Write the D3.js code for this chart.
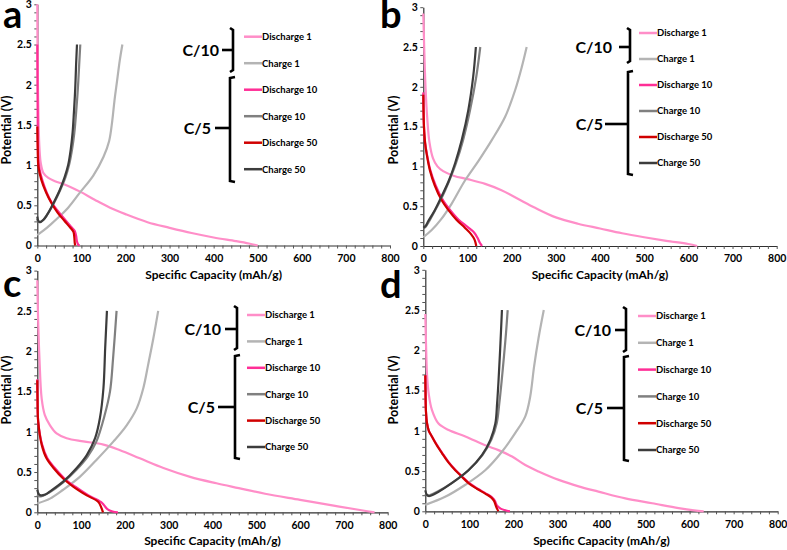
<!DOCTYPE html>
<html><head><meta charset="utf-8">
<script src="https://cdn.jsdelivr.net/npm/d3@7"></script>
<style>
html,body{margin:0;padding:0;background:#fff;}
svg text{font-family:Lato,"Open Sans",sans-serif;font-weight:bold;fill:#000;}
</style></head>
<body><svg id="c" width="787" height="550"></svg>
<script>
// ---------------- data ----------------
const seriesNames = ["Discharge 1","Charge 1","Discharge 10","Charge 10","Discharge 50","Charge 50"];
const seriesColors = ["#FF8EC8","#B4B4B4","#FF2E96","#808080","#D00000","#3C3C3C"];
const panelLetters = ["a","b","c","d"];
const rateLabels = ["C/10","C/5"];
const xTickValues = [0,100,200,300,400,500,600,700,800];
const yTickValues = [0,0.5,1,1.5,2,2.5,3];
const xTitle = "Specific Capacity (mAh/g)";
const yTitle = "Potential (V)";

// panel a
const aD1 = [[0,3],[0.5,2.5],[1.5,2],[3,1.5],[5,1.2],[8,1.02],[14,0.9],[25,0.84],[40,0.8],[66,0.75],[97,0.67],[130,0.57],[165,0.47],[200,0.39],[250,0.29],[300,0.22],[350,0.155],[400,0.1],[450,0.055],[480,0.025],[500,0]];
const aC1 = [[0,0.13],[15,0.19],[30,0.26],[50,0.36],[70,0.47],[97,0.66],[127,0.87],[150,1.1],[163,1.3],[170,1.55],[175,1.8],[181,2.05],[187,2.3],[193,2.5]];
const aD10 = [[0,2.5],[0.5,2],[1,1.5],[2,1.1],[5,0.95],[12,0.8],[22,0.65],[33,0.53],[48,0.42],[63,0.32],[77,0.23],[85,0.18],[88,0.12],[90,0.05],[93,0.01],[96,0]];
const aC10 = [[0,0.33],[2,0.3],[6,0.29],[14,0.32],[22,0.38],[37,0.52],[52,0.69],[64,0.85],[72,1.0],[79,1.2],[84,1.4],[88,1.65],[92,1.95],[95,2.25],[97.5,2.5]];
const aD50 = [[0,1.48],[1,1.2],[2.5,0.98],[9,0.82],[20,0.66],[31,0.54],[46,0.41],[61,0.31],[75,0.22],[82,0.17],[84,0.1],[85,0.03],[86,0]];
const aC50 = [[0,0.36],[2,0.31],[6,0.29],[14,0.32],[22,0.38],[36,0.52],[51,0.69],[62,0.85],[70,1.0],[76,1.2],[80,1.4],[83,1.65],[86,1.95],[88,2.25],[90,2.5]];

// panel b
const bD1 = [[0,2.92],[2,2.5],[5,2.0],[9,1.6],[14,1.3],[22,1.1],[32,1.0],[45,0.94],[70,0.88],[100,0.84],[140,0.78],[177,0.7],[215,0.59],[253,0.48],[300,0.36],[350,0.28],[400,0.22],[450,0.16],[500,0.11],[550,0.065],[600,0.025],[620,0]];
const bC1 = [[0,0.11],[19,0.2],[41,0.34],[64,0.53],[94,0.82],[125,1.07],[155,1.33],[185,1.62],[208,1.96],[223,2.25],[234,2.5]];
const bD10 = [[0,1.93],[0.5,1.7],[1.5,1.5],[4,1.3],[8,1.16],[16,0.95],[28,0.76],[44,0.58],[61,0.45],[80,0.33],[100,0.24],[115,0.17],[123,0.1],[128,0.04],[133,0]];
const bC10 = [[0,0.22],[5,0.24],[11,0.29],[26,0.44],[42,0.61],[58,0.81],[74,1.04],[90,1.33],[106,1.71],[120,2.13],[129,2.5]];
const bD50 = [[0,1.9],[0.5,1.7],[1.5,1.5],[4,1.3],[7.5,1.16],[15,0.95],[26,0.76],[41,0.58],[57,0.45],[75,0.33],[94,0.23],[108,0.15],[116,0.08],[120,0]];
const bC50 = [[0,0.23],[5,0.25],[11,0.31],[26,0.45],[41,0.62],[57,0.81],[72,1.04],[87,1.33],[102,1.71],[113,2.13],[119,2.5]];

// panel c
const cD1 = [[0,2.88],[2,2.37],[5,1.9],[10,1.41],[17,1.21],[29,1.08],[44,0.98],[67,0.92],[105,0.88],[151,0.84],[189,0.77],[234,0.67],[288,0.55],[349,0.44],[409,0.36],[460,0.3],[520,0.23],[600,0.155],[680,0.08],[740,0.025],[770,0]];
const cC1 = [[0,0.11],[29,0.17],[59,0.28],[97,0.44],[135,0.65],[174,0.88],[204,1.08],[227,1.29],[242,1.54],[253,1.83],[265,2.16],[276,2.5]];
const cD10 = [[0,1.65],[0.5,1.4],[2,1.13],[11,0.84],[23,0.67],[40,0.55],[62,0.42],[86,0.32],[117,0.21],[145,0.13],[152,0.09],[160,0.04],[172,0.01],[184,0]];
const cC10 = [[0,0.22],[4,0.2],[10,0.2],[29,0.25],[59,0.37],[90,0.53],[115,0.69],[135,0.88],[154,1.21],[166,1.5],[173,1.91],[181,2.5]];
const cD50 = [[0,1.64],[0.5,1.4],[2,1.13],[10,0.84],[21,0.67],[37,0.55],[59,0.42],[82,0.32],[113,0.21],[139,0.13],[146,0.06],[150,0]];
const cC50 = [[0,0.28],[3,0.23],[8,0.21],[18,0.22],[29,0.26],[59,0.38],[90,0.55],[113,0.71],[132,0.92],[143,1.17],[151,1.54],[155,2.04],[159,2.5]];

// panel d
const dD1 = [[0,2.45],[2,2.0],[4,1.69],[8,1.45],[15,1.26],[30,1.09],[53,1.01],[91,0.93],[136,0.82],[166,0.76],[197,0.68],[227,0.575],[257,0.495],[303,0.39],[348,0.31],[393,0.245],[454,0.16],[515,0.1],[575,0.04],[610,0.012],[632,0]];
const dC1 = [[0,0.08],[45,0.18],[91,0.33],[136,0.51],[174,0.74],[204,0.97],[227,1.18],[238,1.42],[247,1.8],[257,2.15],[269,2.5]];
const dD10 = [[0,1.69],[0.5,1.45],[1.5,1.24],[4,1.09],[8,1.0],[15,0.93],[26,0.83],[39,0.72],[53,0.61],[69,0.51],[84,0.43],[100,0.35],[119,0.28],[138,0.22],[152,0.17],[158,0.13],[163,0.07],[172,0.03],[192,0]];
const dC10 = [[0,0.22],[4,0.2],[10,0.2],[26,0.24],[60,0.35],[98,0.51],[130,0.7],[150,0.89],[162,1.09],[168,1.34],[173,1.6],[179,1.95],[183,2.2],[187,2.5]];
const dD50 = [[0,1.69],[0.5,1.45],[1.5,1.24],[4,1.09],[8,1.0],[15,0.93],[25,0.83],[38,0.72],[52,0.61],[68,0.51],[83,0.43],[98,0.35],[117,0.28],[136,0.22],[150,0.17],[156,0.13],[160,0.07],[163,0.03],[166,0]];
const dC50 = [[0,0.26],[3,0.21],[7.5,0.19],[15,0.2],[23,0.22],[60,0.35],[98,0.51],[129,0.7],[148,0.89],[159,1.09],[163,1.34],[166,1.6],[170,2.02],[174,2.5]];

const panelSeries = [
  [aD1,aC1,aD10,aC10,aD50,aC50],
  [bD1,bC1,bD10,bC10,bD50,bC50],
  [cD1,cC1,cD10,cC10,cD50,cC50],
  [dD1,dC1,dD10,dC10,dD50,dC50]
];

// ---------------- layout ----------------
const layout = [
  {x0:37.3,x1:390,yT:4.3,yB:245.5, letter:[3,28], yt:[6.5,130], xt:279,
   lx:244, ly0:36.7, ldy:26.5,
   b10:{x:233,y0:28,y1:72,ty:50,tx0:222}, t10x:219,
   b5:{x:230,y0:77,y1:182,ty:128,tx0:215}, t5x:211},
  {x0:423.3,x1:776.7,yT:7.2,yB:246, letter:[380,28], yt:[393,130], xt:279,
   lx:639, ly0:33, ldy:26,
   b10:{x:630,y0:28,y1:63,ty:47,tx0:619}, t10x:612,
   b5:{x:628,y0:71,y1:175,ty:124,tx0:605}, t5x:603},
  {x0:37.3,x1:387.7,yT:270.6,yB:512.3, letter:[3,297], yt:[6.5,390], xt:545,
   lx:247, ly0:315, ldy:26.4,
   b10:{x:237,y0:306,y1:350,ty:329,tx0:225}, t10x:221,
   b5:{x:235,y0:355,y1:459,ty:407,tx0:218}, t5x:215},
  {x0:425.3,x1:777.7,yT:269.8,yB:511.3, letter:[380,298], yt:[393,390], xt:545,
   lx:638, ly0:316, ldy:26.8,
   b10:{x:626,y0:307,y1:352,ty:330,tx0:615}, t10x:611,
   b5:{x:624,y0:356,y1:461,ty:408,tx0:607}, t5x:603}
];

const svg = d3.select("#c");

layout.forEach((L, pi) => {
  const g = svg.append("g");
  const x = d3.scaleLinear().domain([0,800]).range([L.x0, L.x1]);
  const y = d3.scaleLinear().domain([0,3]).range([L.yB, L.yT]);

  // axes
  const yAx = d3.axisLeft(y)
    .tickValues(d3.range(0, 31).map(i => i/10))
    .tickSize(3).tickSizeOuter(0).tickPadding(2.5)
    .tickFormat(v => {
      const r = Math.round(v*10);
      return yTickValues.includes(r/10) ? d3.format("~g")(r/10) : "";
    });
  const gy = g.append("g").attr("transform", `translate(${L.x0},0)`).call(yAx);
  const xAx = d3.axisBottom(x)
    .tickValues(d3.range(0, 41).map(i => i*20))
    .tickSize(3).tickSizeOuter(0).tickPadding(6)
    .tickFormat(v => xTickValues.includes(v) ? String(v) : "");
  const gx = g.append("g").attr("transform", `translate(0,${L.yB})`).call(xAx);
  [gx, gy].forEach(a => {
    a.select(".domain").attr("stroke", "#303030").attr("stroke-width", 1.2);
    a.selectAll(".tick line").attr("stroke", "#555").attr("stroke-width", 1);
    a.selectAll("text").attr("font-size", 10.5).attr("font-family", "Lato").attr("font-weight", "bold").attr("fill", "#000");
  });
  gy.selectAll(".tick text").filter(function(){ return this.textContent === ""; }).remove();
  gx.selectAll(".tick text").filter(function(){ return this.textContent === ""; }).remove();

  // titles
  g.append("text").attr("x", (L.x0+L.x1)/2).attr("y", L.xt)
    .attr("text-anchor", "middle").attr("font-size", 12).text(xTitle);
  g.append("text").attr("transform", `translate(${L.yt[0]},${L.yt[1]}) rotate(-90)`)
    .attr("text-anchor", "middle").attr("dominant-baseline", "central")
    .attr("font-size", 12.5).text(yTitle);
  g.append("text").attr("x", L.letter[0]).attr("y", L.letter[1])
    .attr("font-size", 38).text(panelLetters[pi]);

  // curves
  const line = d3.line().x(d => x(d[0])).y(d => y(d[1])).curve(d3.curveCatmullRom.alpha(0.5));
  panelSeries[pi].forEach((s, si) => {
    g.append("path").attr("d", line(s)).attr("fill", "none")
      .attr("stroke", seriesColors[si]).attr("stroke-width", 2.2)
      .attr("stroke-linejoin", "round").attr("stroke-linecap", "butt");
  });

  // legend
  seriesNames.forEach((n, si) => {
    const yy = L.ly0 + si*L.ldy;
    g.append("line").attr("x1", L.lx).attr("x2", L.lx+18).attr("y1", yy).attr("y2", yy)
      .attr("stroke", seriesColors[si]).attr("stroke-width", 2.5);
    g.append("text").attr("x", L.lx+18).attr("y", yy).attr("dy", "0.35em")
      .attr("font-size", 9.5).text(n);
  });

  // brackets
  const bk = g.append("g").attr("stroke", "#000").attr("stroke-width", 2.6).attr("fill", "none");
  const B10 = L.b10, B5 = L.b5;
  bk.append("path").attr("d", `M${B10.x-3},${B10.y0} L${B10.x},${B10.y0+2} L${B10.x},${B10.y1-2} L${B10.x-3},${B10.y1}`);
  bk.append("line").attr("x1", B10.tx0).attr("x2", B10.x).attr("y1", B10.ty).attr("y2", B10.ty);
  bk.append("path").attr("d", `M${B5.x+5},${B5.y0} L${B5.x},${B5.y0+1} L${B5.x},${B5.y1-1} L${B5.x+5},${B5.y1}`);
  bk.append("line").attr("x1", B5.tx0).attr("x2", B5.x).attr("y1", B5.ty).attr("y2", B5.ty);
  g.append("text").attr("x", L.t10x).attr("y", B10.ty).attr("dy", "0.36em")
    .attr("text-anchor", "end").attr("font-size", 16).text(rateLabels[0]);
  g.append("text").attr("x", L.t5x).attr("y", B5.ty).attr("dy", "0.36em")
    .attr("text-anchor", "end").attr("font-size", 16).text(rateLabels[1]);
});
</script></body></html>
